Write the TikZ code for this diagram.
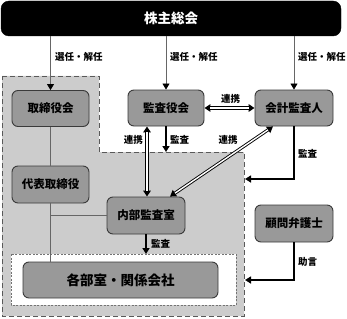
\documentclass[tikz,border=0pt]{standalone}
\usepackage{fontspec}
\setmainfont{Noto Sans CJK JP}
\usetikzlibrary{arrows.meta}
\definecolor{bgray}{HTML}{CCCCCC}
\definecolor{boxfill}{HTML}{999999}
\definecolor{boxline}{HTML}{3A3A3A}
\begin{document}
\begin{tikzpicture}[x=1pt,y=-1pt,
  box/.style={draw=boxline, line width=0.9pt, fill=boxfill, rounded corners=6pt,
    inner sep=0pt, minimum height=36pt, font=\bfseries\fontsize{11.5}{12}\selectfont},
  topbox/.style={fill=black, draw=black, rounded corners=8pt, text=white, inner sep=0pt,
    minimum width=340pt, minimum height=35pt, font=\bfseries\fontsize{13.5}{14}\selectfont},
  lbl/.style={font=\bfseries\fontsize{9.5}{10}\selectfont, inner sep=0pt},
  thinarrow/.style={draw=black!60, line width=0.8pt, -{Triangle[length=6pt,width=7pt,fill=black,color=black]}},
  conn/.style={draw=black!60, line width=0.8pt},
  dblout/.style={draw=black, line width=3.2pt,
    {Triangle[length=6pt,width=7.5pt]}-{Triangle[length=6pt,width=7.5pt]}},
  dblin/.style={draw=white, line width=1.4pt, shorten <=6pt, shorten >=6pt},
  thk/.style={draw=black, line width=1.8pt, -{Triangle[length=6pt,width=7pt]}},
  region/.style={fill=bgray, draw=black!65, line width=0.9pt, dash pattern=on 5pt off 3pt},
  wregion/.style={fill=white, draw=black!55, line width=0.8pt, dash pattern=on 2pt off 1.5pt}
]
\useasboundingbox (0,0) rectangle (347,318);
% regions
\draw[region] (2,76) -- (99,76) -- (99,152) -- (244,152) -- (244,316) -- (2,316) -- cycle;
\draw[wregion] (11,254) rectangle (236,305);
\coordinate (notch) at (244,152);
\coordinate (edgeA) at (245,179);
\coordinate (edgeB) at (245,280);
\coordinate (wtop) at (146,254);
% nodes
\node[topbox] (top) at (171,18.5) {株主総会};
\node[box, minimum width=77pt] (tori) at (50.5,108.5) {取締役会};
\node[box, minimum width=76pt] (kansa) at (166,108) {監査役会};
\node[box, minimum width=78pt] (kaikei) at (294,108) {会計監査人};
\node[box, minimum width=77pt, minimum height=37pt] (daihyo) at (50.5,184.5) {代表取締役};
\node[box, minimum width=78pt, minimum height=37pt] (naibu) at (146,215.5) {内部監査室};
\node[box, minimum width=78pt, minimum height=37pt] (komon) at (294,223.5) {顧問弁護士};
\node[box, minimum width=195pt, font=\bfseries\fontsize{13.5}{14}\selectfont] (kakubu) at (120.5,280) {各部室・関係会社};
% arrows from top
\draw[thinarrow] (top.south -| tori.north) -- (tori.north);
\draw[thinarrow] (top.south -| kansa.north) -- (kansa.north);
\draw[thinarrow] (top.south -| kaikei.north) -- (kaikei.north);
\node[lbl, anchor=west] (l1) at (55,57) {選任・解任};
\node[lbl, anchor=west] (l2) at (170,57) {選任・解任};
\node[lbl, anchor=west] (l3) at (298,57) {選任・解任};
% connections
\draw[conn] (tori) -- (daihyo);
\draw[conn] (daihyo.south) -- (kakubu.north -| daihyo.south);
\draw[conn] (daihyo.south |- naibu.west) -- (naibu.west);
% double arrows
\draw[dblout] (kansa.east) -- (kaikei.west);
\draw[dblin] (kansa.east) -- (kaikei.west);
\node[lbl] (l4) at (230.5,99) {連携};
\draw[dblout] ([xshift=-19pt]kansa.south) -- ([xshift=-19pt]kansa.south |- naibu.north);
\draw[dblin] ([xshift=-19pt]kansa.south) -- ([xshift=-19pt]kansa.south |- naibu.north);
\node[lbl, anchor=east] (l5) at (143,140) {連携};
\draw[dblout] ([xshift=-21pt]kaikei.south) -- ([xshift=24pt]naibu.north);
\draw[dblin] ([xshift=-21pt]kaikei.south) -- ([xshift=24pt]naibu.north);
\node[lbl] (l6) at (228,140) {連携};
% thick arrows
\draw[thk] (kansa.south) -- (kansa.south |- notch);
\node[lbl, anchor=west] (l7) at (170,140) {監査};
\draw[thk] (kaikei.south) |- (edgeA);
\node[lbl, anchor=west] (l8) at (298,154) {監査};
\draw[thk] (komon.south) |- (edgeB);
\node[lbl, anchor=west] (l9) at (298,262) {助言};
\draw[thk] (naibu.south) -- (wtop);
\node[lbl, anchor=west] (l10) at (151,244) {監査};
\end{tikzpicture}
\end{document}
